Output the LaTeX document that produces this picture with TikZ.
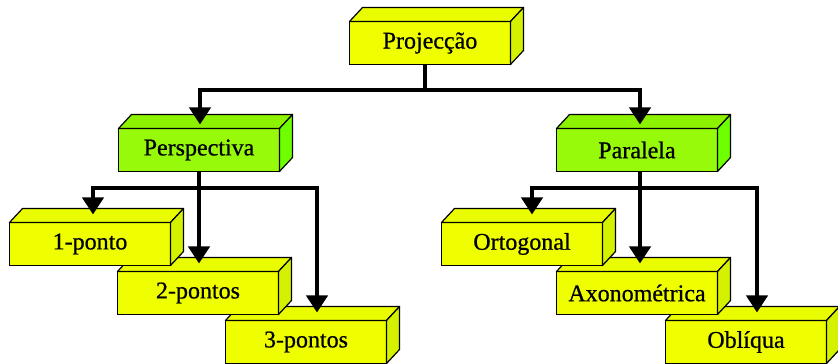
\documentclass[tikz,border=0pt]{standalone}
\usepackage{fontspec}
\setmainfont{Liberation Serif}
\newfontfamily\blockfont{Liberation Serif}[FakeBold=0.7]
\usetikzlibrary{positioning,arrows.meta}

\definecolor{yelfront}{RGB}{240,255,0}
\definecolor{yeltop}{RGB}{234,252,0}
\definecolor{yelside}{RGB}{212,242,0}
\definecolor{grnfront}{RGB}{150,250,10}
\definecolor{grntop}{RGB}{140,242,0}
\definecolor{grnside}{RGB}{110,255,0}

% top and side faces of a block
\newcommand{\boxfaces}[2]{%
  \filldraw[face, fill=#2top] (#1.north west) -- ++(13pt,14pt) -- ([shift={(13pt,14pt)}]#1.north east) -- (#1.north east) -- cycle;
  \filldraw[face, fill=#2side] (#1.north east) -- ++(13pt,14pt) -- ([shift={(13pt,14pt)}]#1.south east) -- (#1.south east) -- cycle;
}

\tikzset{
  block/.style={draw, line width=1.2pt, minimum width=161pt, minimum height=43pt,
    inner sep=0pt, outer sep=0pt, font=\blockfont\fontsize{24}{28}\selectfont, fill=#1front},
  face/.style={line width=1.2pt, line join=round},
  arr/.style={line width=4pt, -{Triangle[width=21pt,length=17pt]}}
}

\begin{document}
\begin{tikzpicture}[x=1pt, y=1pt]
    \useasboundingbox (0,0) rectangle (838,364);

    \node[block=yel] (proj) at (430,321) {Projecção};
    \boxfaces{proj}{yel}
    \node[block=grn] (persp) at (199,214) {Perspectiva};
    \boxfaces{persp}{grn}
    \node[block=grn] (paral) at (637,214) {Paralela};
    \boxfaces{paral}{grn}

    % left group, lowest first
    \node[block=yel] (p3) at (306,22) {3-pontos};
    \boxfaces{p3}{yel}
    \node[block=yel, above left=6pt and -53pt of p3] (p2) {2-pontos};
    \boxfaces{p2}{yel}
    \node[block=yel, above left=6pt and -53pt of p2] (p1) {1-ponto};
    \boxfaces{p1}{yel}

    % right group, lowest first
    \node[block=yel] (obl) at (746,22) {Oblíqua};
    \boxfaces{obl}{yel}
    \node[block=yel, above left=6pt and -52pt of obl] (axo) {Axonométrica};
    \boxfaces{axo}{yel}
    \node[block=yel, above left=6pt and -46pt of axo] (ort) {Ortogonal};
    \boxfaces{ort}{yel}

    % connectors
    \draw[arr] (proj.south) ++(-5pt,0) -- ++(0,-26) -| ([shift={(1pt,4pt)}]persp.north);
    \draw[arr] (proj.south) ++(-5pt,0) -- ++(0,-26) -| ([shift={(3pt,4pt)}]paral.north);

    \draw[arr] (persp.south) -- ++(0,-17) -| ([shift={(3pt,8pt)}]p1.north);
    \draw[arr] (persp.south) -- ([yshift=8pt]persp.south |- p2.north);
    \draw[arr] (persp.south) -- ++(0,-17) -| ([shift={(11pt,8pt)}]p3.north);

    \draw[arr] (paral.south) ++(3pt,0) -- ++(0,-17) -| ([shift={(10pt,8pt)}]ort.north);
    \draw[arr] (paral.south) ++(3pt,0) -- ([shift={(3pt,8pt)}]paral.south |- axo.north);
    \draw[arr] (paral.south) ++(3pt,0) -- ++(0,-17) -| ([shift={(11pt,8pt)}]obl.north);
\end{tikzpicture}
\end{document}
